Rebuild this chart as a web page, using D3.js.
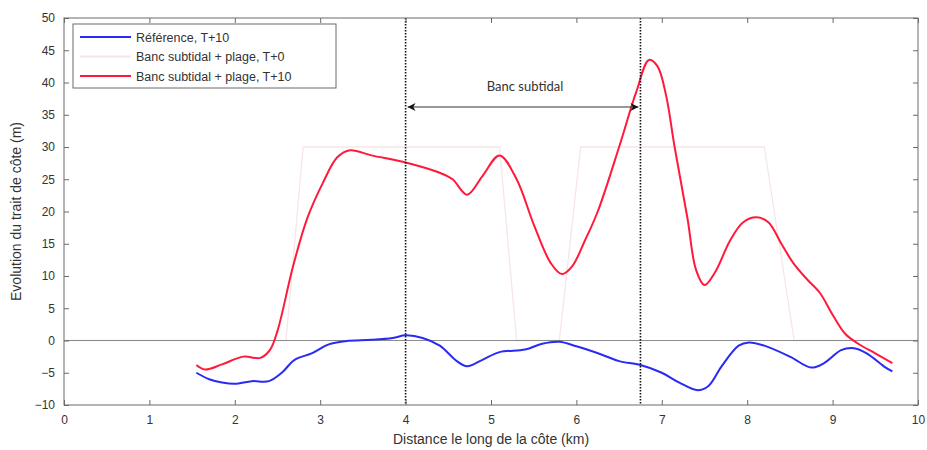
<!DOCTYPE html>
<html>
<head>
<meta charset="utf-8">
<script src="https://cdn.jsdelivr.net/npm/d3@7"></script>
<style>
  body { margin: 0; background: #fff; }
  text { font-family: "Liberation Sans", Arial, sans-serif; }
</style>
</head>
<body>
<div id="chart"></div>
<script>
// chart values
var xTicks = [0, 1, 2, 3, 4, 5, 6, 7, 8, 9, 10]
var yTicks = [-10, -5, 0, 5, 10, 15, 20, 25, 30, 35, 40, 45, 50]

var refX = [1.55, 1.7, 1.85, 2.0, 2.2, 2.4, 2.55, 2.7, 2.9, 3.1, 3.3, 3.6, 3.85, 4.0, 4.2, 4.4, 4.6, 4.72, 4.9, 5.1, 5.4, 5.6, 5.8, 6.0, 6.3, 6.5, 6.75, 7.0, 7.2, 7.42, 7.55, 7.7, 7.9, 8.02, 8.2, 8.5, 8.75, 8.9, 9.1, 9.25, 9.4, 9.6, 9.7]
var refY = [-5, -6, -6.5, -6.7, -6.3, -6.3, -5, -3, -2, -0.6, -0.1, 0.1, 0.4, 0.8, 0.4, -0.8, -3.2, -4, -3, -1.8, -1.4, -0.5, -0.2, -0.9, -2.2, -3.2, -3.8, -5, -6.5, -7.7, -7, -4, -0.8, -0.3, -0.8, -2.5, -4.2, -3.5, -1.5, -1.2, -2, -4, -4.8]

var t0X = [0, 2.6, 2.8, 5.1, 5.3, 5.8, 6.05, 8.2, 8.55, 10]
var t0Y = [0, 0, 30, 30, 0, 0, 30, 30, 0, 0]

var t10X = [1.55, 1.65, 1.85, 2.1, 2.3, 2.41, 2.5, 2.68, 2.85, 3.03, 3.2, 3.35, 3.6, 4.0, 4.4, 4.55, 4.72, 4.9, 5.1, 5.3, 5.5, 5.7, 5.83, 5.95, 6.1, 6.25, 6.5, 6.7, 6.85, 6.95, 7.05, 7.15, 7.3, 7.4, 7.5, 7.62, 7.8, 7.95, 8.11, 8.25, 8.4, 8.54, 8.7, 8.85, 9.0, 9.15, 9.3, 9.5, 9.7]
var t10Y = [-3.8, -4.5, -3.7, -2.5, -2.7, -1.5, 1.5, 11.4, 19, 24.4, 28.4, 29.5, 28.7, 27.6, 26, 25, 22.6, 25.5, 28.7, 25, 18, 12, 10.3, 11.5, 15.5, 20, 30, 38.5, 43.5, 42.5, 38, 30, 19, 11, 8.6, 10.5, 15.5, 18.3, 19.1, 18.3, 15, 12, 9.5, 7.4, 4, 1, -0.5, -2, -3.5]

var subBank = [4, 6.75]
var subBankLabel = "Banc subtidal"
var subBankY = 36.2

var legendLabels = ["Référence, T+10", "Banc subtidal + plage, T+0", "Banc subtidal + plage, T+10"]
var colors = ["#2a2af5", "#f6e6e8", "#ff1a3c"]

const margin = {top: 18, right: 9, bottom: 45, left: 64}
const width = 927 - margin.left - margin.right
const height = 450 - margin.top - margin.bottom  // 387

var svg = d3.select("#chart").append("svg")
  .attr("width", 927).attr("height", 450)
  .append("g")
  .attr("transform", "translate(" + margin.left + "," + margin.top + ")")

var x = d3.scaleLinear().domain([0, 10]).range([0, width])
var y = d3.scaleLinear().domain([-10, 50]).range([height, 0])

svg.append("clipPath").attr("id", "clip")
  .append("rect").attr("width", width).attr("height", height)

function zip(xs, ys) { return xs.map(function(v, i) { return {x: v, y: ys[i]} }) }

var line = d3.line().x(function(d) { return x(d.x) }).y(function(d) { return y(d.y) })
var smooth = d3.line().curve(d3.curveCatmullRom.alpha(0.5))
  .x(function(d) { return x(d.x) }).y(function(d) { return y(d.y) })

// T+0, barely visible in the original
svg.append("path").datum(zip(t0X, t0Y))
  .attr("clip-path", "url(#clip)")
  .attr("fill", "none").attr("stroke", colors[1]).attr("stroke-width", 1.3)
  .attr("d", line)

// zero line
svg.append("line")
  .attr("x1", 0).attr("x2", width)
  .attr("y1", y(0)).attr("y2", y(0))
  .attr("stroke", "#8c8c8c").attr("stroke-width", 1.2)

svg.append("path").datum(zip(refX, refY))
  .attr("fill", "none").attr("stroke", colors[0]).attr("stroke-width", 2)
  .attr("d", smooth)

svg.append("path").datum(zip(t10X, t10Y))
  .attr("fill", "none").attr("stroke", colors[2]).attr("stroke-width", 2)
  .attr("d", smooth)

// dotted verticals for the bank
subBank.forEach(function(v) {
  svg.append("line")
    .attr("x1", x(v)).attr("x2", x(v)).attr("y1", 0).attr("y2", height)
    .attr("stroke", "#111").attr("stroke-width", 1.6)
    .attr("stroke-dasharray", "1.5,1.5")
})

// double arrow
var defs = svg.append("defs")
defs.append("marker").attr("id", "arr")
  .attr("viewBox", "0 0 10 10").attr("refX", 10).attr("refY", 5)
  .attr("markerWidth", 14).attr("markerHeight", 8).attr("markerUnits", "userSpaceOnUse")
  .attr("orient", "auto-start-reverse")
  .append("path").attr("d", "M0,0 L10,5 L0,10 L3,5 Z").attr("fill", "#111")

svg.append("line")
  .attr("x1", x(subBank[0]) + 2).attr("x2", x(subBank[1]) - 2)
  .attr("y1", y(subBankY)).attr("y2", y(subBankY))
  .attr("stroke", "#333").attr("stroke-width", 1)
  .attr("marker-start", "url(#arr)").attr("marker-end", "url(#arr)")

svg.append("text")
  .attr("x", x((subBank[0] + subBank[1]) / 2) + 2).attr("y", y(subBankY) - 16)
  .attr("text-anchor", "middle").attr("font-size", 13).attr("fill", "#333")
  .style("font-family", "Lato, 'Open Sans', sans-serif")
  .text(subBankLabel)

// box with inward ticks
svg.append("rect").attr("width", width).attr("height", height)
  .attr("fill", "none").attr("stroke", "#6b6b6b").attr("stroke-width", 1)

svg.append("g").attr("transform", "translate(0," + height + ")")
  .call(d3.axisBottom(x).tickValues(xTicks).tickSize(-5).tickPadding(10).tickFormat(d3.format("d")))
svg.append("g")
  .call(d3.axisTop(x).tickValues(xTicks).tickSize(-5).tickFormat(""))
svg.append("g")
  .call(d3.axisLeft(y).tickValues(yTicks).tickSize(-5).tickPadding(9).tickFormat(d3.format("d")))
svg.append("g").attr("transform", "translate(" + width + ",0)")
  .call(d3.axisRight(y).tickValues(yTicks).tickSize(-5).tickFormat(""))

svg.selectAll(".domain").remove()
svg.selectAll(".tick line").attr("stroke", "#6b6b6b")
svg.selectAll(".tick text").attr("font-size", 12).attr("fill", "#333")
  .style("font-family", "'Liberation Sans', Arial, sans-serif")

// axis titles
svg.append("text")
  .attr("x", width / 2).attr("y", height + 39)
  .attr("text-anchor", "middle").attr("font-size", 14).attr("fill", "#333")
  .text("Distance le long de la côte (km)")

svg.append("text")
  .attr("transform", "translate(-43," + height / 2 + ") rotate(-90)")
  .attr("text-anchor", "middle").attr("font-size", 14).attr("fill", "#333")
  .text("Evolution du trait de côte (m)")

// legend
var lg = svg.append("g").attr("transform", "translate(9,6)")
lg.append("rect").attr("width", 263).attr("height", 64)
  .attr("fill", "#fff").attr("stroke", "#6b6b6b").attr("stroke-width", 1)
legendLabels.forEach(function(t, i) {
  var ly = 13 + i * 19.5
  lg.append("line").attr("x1", 7).attr("x2", 58).attr("y1", ly).attr("y2", ly)
    .attr("stroke", colors[i]).attr("stroke-width", 2)
  lg.append("text").attr("x", 63).attr("y", ly + 4.5)
    .attr("font-size", 12.5).attr("fill", "#333").text(t)
})
</script>
</body>
</html>
